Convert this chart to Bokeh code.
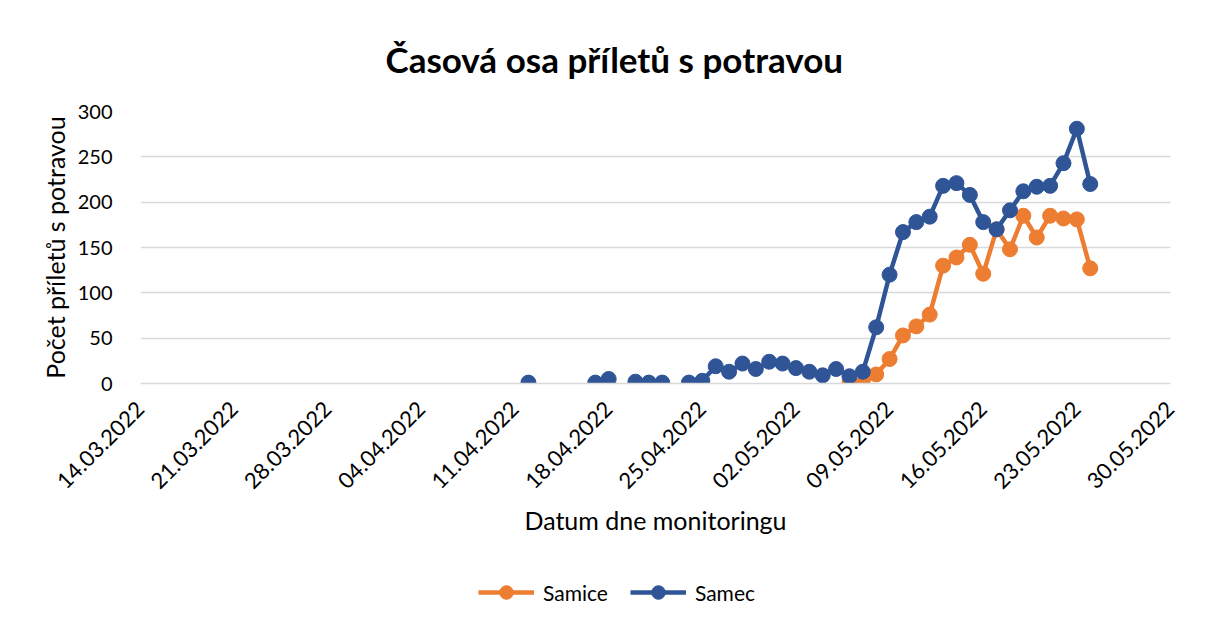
import math
import numpy as np
import pandas as pd
from bokeh.plotting import figure
from bokeh.layouts import column
from bokeh.models import (FixedTicker, DatetimeTickFormatter, Range1d, Legend,
                          LegendItem, Title, ColumnDataSource)
from bokeh.embed import file_html
from bokeh.resources import INLINE

# ---------------- data ----------------
title_text = "Časová osa příletů s potravou"
x_title = "Datum dne monitoringu"
y_title = "Počet příletů s potravou"

x_tick_labels = ["14.03.2022", "21.03.2022", "28.03.2022", "04.04.2022",
                 "11.04.2022", "18.04.2022", "25.04.2022", "02.05.2022",
                 "09.05.2022", "16.05.2022", "23.05.2022", "30.05.2022"]
y_ticks = [0, 50, 100, 150, 200, 250, 300]

samec_dates = ["12.04.2022", "17.04.2022", "18.04.2022", "20.04.2022",
               "21.04.2022", "22.04.2022", "24.04.2022", "25.04.2022",
               "26.04.2022", "27.04.2022", "28.04.2022", "29.04.2022",
               "30.04.2022", "01.05.2022", "02.05.2022", "03.05.2022",
               "04.05.2022", "05.05.2022", "06.05.2022", "07.05.2022",
               "08.05.2022", "09.05.2022", "10.05.2022", "11.05.2022",
               "12.05.2022", "13.05.2022", "14.05.2022", "15.05.2022",
               "16.05.2022", "17.05.2022", "18.05.2022", "19.05.2022",
               "20.05.2022", "21.05.2022", "22.05.2022", "23.05.2022",
               "24.05.2022"]
samec_values = [1, 1, 5, 2, 1, 1, 1, 3,
                19, 13, 22, 16, 24, 22, 17, 13,
                9, 16, 8, 13, 62, 120, 167, 178,
                184, 218, 221, 208, 178, 170, 191, 212,
                217, 218, 243, 281, 220]

samice_dates = ["06.05.2022", "07.05.2022", "08.05.2022", "09.05.2022",
                "10.05.2022", "11.05.2022", "12.05.2022", "13.05.2022",
                "14.05.2022", "15.05.2022", "16.05.2022", "17.05.2022",
                "18.05.2022", "19.05.2022", "20.05.2022", "21.05.2022",
                "22.05.2022", "23.05.2022", "24.05.2022"]
samice_values = [1, 0, 10, 27, 53, 63, 76, 130, 139, 153, 121, 170,
                 148, 185, 161, 185, 182, 181, 127]

series_names = ["Samice", "Samec"]

ORANGE = "#ED7D31"
BLUE = "#2F5597"
FONT = "Lato"


def daily_source(dates, values):
    idx = pd.to_datetime(dates, format="%d.%m.%Y")
    s = pd.Series(values, index=idx, dtype=float)
    full = s.reindex(pd.date_range(idx.min(), idx.max(), freq="D"))
    return ColumnDataSource(dict(x=full.index, y=full.values))


tick_dates = pd.to_datetime(x_tick_labels, format="%d.%m.%Y")
tick_ms = [int(t.value // 10**6) for t in tick_dates]

p = figure(width=1205, height=560, x_axis_type="datetime",
           x_range=Range1d(tick_dates[0], tick_dates[-1]),
           y_range=Range1d(y_ticks[0], y_ticks[-1]),
           output_backend="svg", toolbar_location=None, title=None,
           min_border_left=140, min_border_right=35,
           min_border_top=111, min_border_bottom=177)
p.outline_line_color = None
p.background_fill_color = "white"
p.border_fill_color = "white"

p.xgrid.grid_line_color = None
p.ygrid.grid_line_color = "#d9d9d9"
p.ygrid.grid_line_width = 1.5

p.yaxis.ticker = FixedTicker(ticks=y_ticks)
p.xaxis.ticker = FixedTicker(ticks=tick_ms)
fmt = "%d.%m.%Y"
p.xaxis.formatter = DatetimeTickFormatter(
    microseconds=fmt, milliseconds=fmt, seconds=fmt, minsec=fmt, minutes=fmt,
    hourmin=fmt, hours=fmt, days=fmt, months=fmt, years=fmt)
p.xaxis.major_label_orientation = math.pi / 4

for ax in (p.xaxis, p.yaxis):
    ax.major_tick_line_color = None
    ax.minor_tick_line_color = None
    ax.major_label_text_font = FONT
    ax.major_label_text_color = "#000000"
    ax.axis_label_text_font = FONT
    ax.axis_label_text_font_size = "25px"
    ax.axis_label_text_font_style = "normal"
    ax.axis_label_text_color = "#000000"

p.yaxis.major_label_text_font_size = "20px"
p.xaxis.major_label_text_font_size = "22px"
p.yaxis.axis_line_color = None
p.xaxis.axis_line_color = "#d9d9d9"
p.xaxis.axis_line_width = 1.5
p.yaxis.major_label_standoff = 22
p.xaxis.major_label_standoff = 16
p.yaxis.axis_label = y_title
p.xaxis.axis_label = x_title
p.yaxis.axis_label_standoff = 5
p.xaxis.axis_label_standoff = 6

src_f = daily_source(samice_dates, samice_values)
src_m = daily_source(samec_dates, samec_values)

p.line("x", "y", source=src_f, line_color=ORANGE, line_width=4.5)
p.scatter("x", "y", source=src_f, marker="circle", size=15,
          fill_color=ORANGE, line_color=ORANGE)
p.line("x", "y", source=src_m, line_color=BLUE, line_width=4.5)
p.scatter("x", "y", source=src_m, marker="circle", size=15,
          fill_color=BLUE, line_color=BLUE)

title = Title(text=title_text, align="left", offset=245, standoff=64,
              text_font=FONT, text_font_size="35px", text_font_style="bold",
              text_color="#000000")
p.add_layout(title, "above")

# ---------------- legend strip ----------------
lg = figure(width=1205, height=68, output_backend="svg", toolbar_location=None,
            x_range=Range1d(0, 1), y_range=Range1d(0, 1),
            x_axis_location=None, y_axis_location=None, title=None,
            min_border_left=0, min_border_right=0, min_border_top=0,
            min_border_bottom=0)
lg.outline_line_color = None
lg.grid.visible = False
lg.border_fill_color = "white"

items = []
for name, color in zip(series_names, [ORANGE, BLUE]):
    swatch = ColumnDataSource(dict(x=[np.nan], y=[np.nan]))
    r1 = lg.line("x", "y", source=swatch, line_color=color, line_width=4.5)
    r2 = lg.scatter("x", "y", source=swatch, marker="circle", size=15,
                    fill_color=color, line_color=color)
    items.append(LegendItem(label=name, renderers=[r1, r2]))

legend = Legend(items=items, orientation="horizontal", location=(338, 19),
                glyph_width=56, glyph_height=34, spacing=22, padding=0,
                margin=0, label_text_font=FONT, label_text_font_size="21px",
                label_text_color="#000000", border_line_color=None,
                background_fill_alpha=0, label_standoff=9)
lg.add_layout(legend)

open("out.html", "w").write(file_html(column(p, lg, spacing=0), INLINE))
